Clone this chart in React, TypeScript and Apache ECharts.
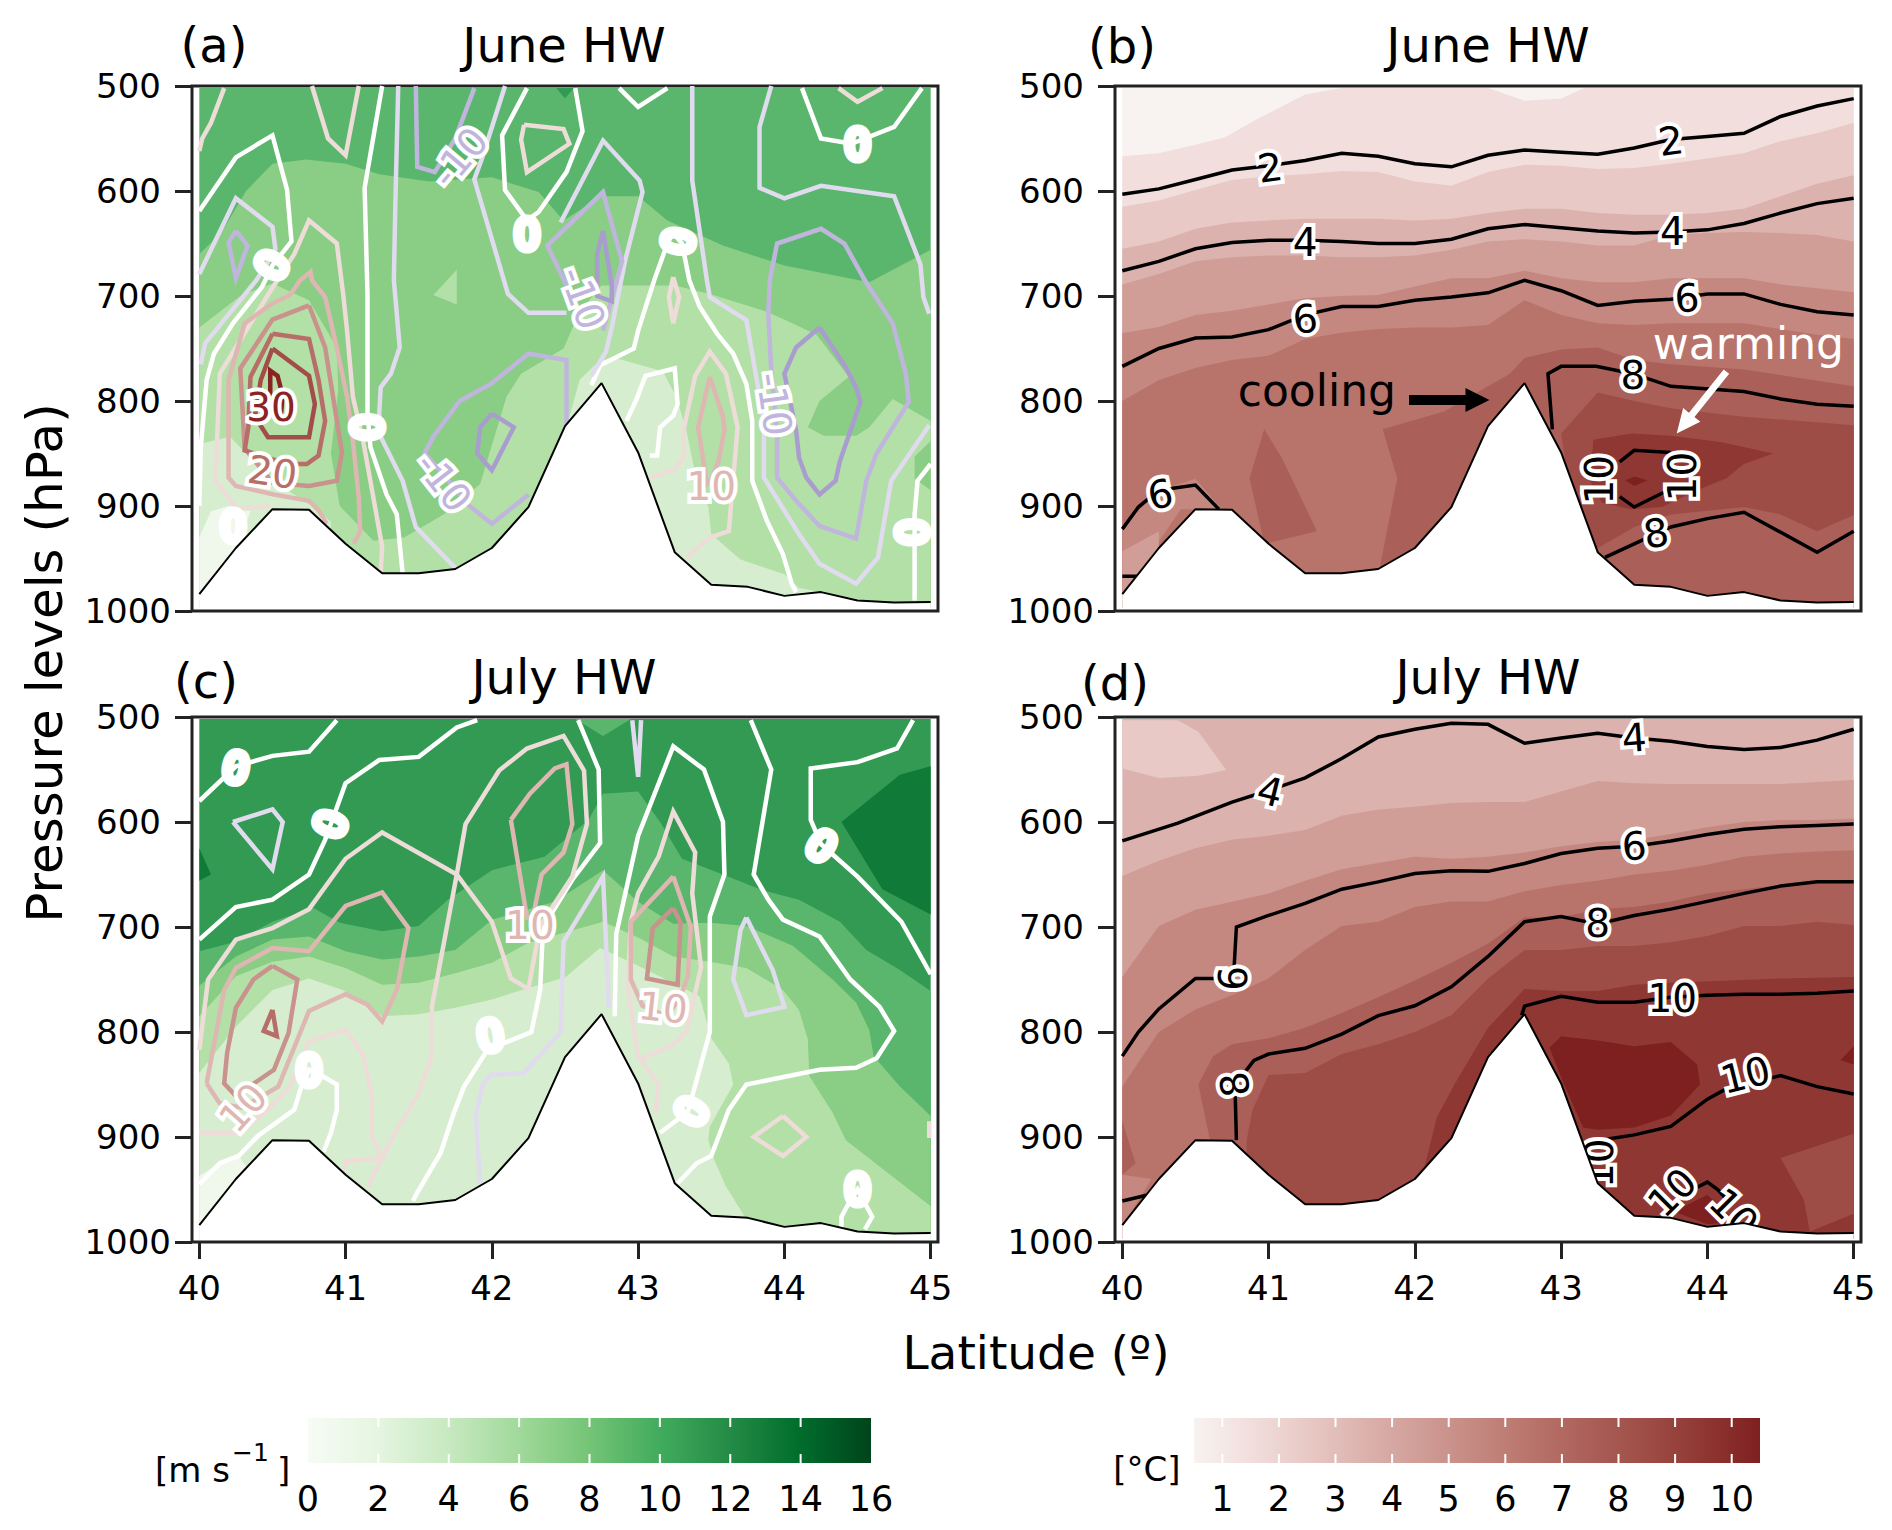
import React, { useEffect, useRef } from "react";
import * as echarts from "echarts";

type Pt = number[];
const loop = (p: Pt[]) => [...p, p[0]];

const FONT = "DejaVu Sans";
const X_TICKS = [40, 41, 42, 43, 44, 45];
const WIND_TICKS = [0, 2, 4, 6, 8, 10, 12, 14, 16];
const TEMP_TICKS = [1, 2, 3, 4, 5, 6, 7, 8, 9, 10];
const GREENS_CMAP = ["#f7fcf5", "#e5f5e0", "#c7e9c0", "#a1d99b", "#74c476", "#41ab5d", "#238b45", "#006d2c", "#00441b"];
const REDS_CMAP = ["#f8f3f0", "#f1dedd", "#e8c9c5", "#dcb2ae", "#d09d97", "#c48880", "#b8736b", "#aa5f58", "#9e4d46", "#8f3733", "#7f2020"];
const GREEN_BANDS = ["#eff8eb", "#d6eecf", "#b3e0a7", "#8acd84", "#5ab66d", "#329a52", "#107a38"];
const LEVEL_COLORS: Record<number, string> = {
  [-15]: "#a99dd0", [-10]: "#c0b6dd", [-5]: "#e0dbee", 0: "#ffffff",
  5: "#eedcd8", 10: "#deb7b2", 15: "#c9928c", 20: "#b76d68", 25: "#a34c4a", 30: "#8b2325",
};

const TERRAIN: Pt[] = [[40, 984], [40.25, 940], [40.5, 903], [40.75, 903.5], [41, 936], [41.25, 964], [41.5, 964], [41.75, 960], [42, 940], [42.25, 901], [42.5, 824], [42.75, 783], [43, 849], [43.25, 944], [43.5, 975], [43.75, 977], [44, 985.6], [44.25, 982], [44.5, 990], [44.75, 992], [45, 991.5]];
const RECT: Pt[] = [[40, 500], [45, 500], [45, 1000], [40, 1000]];

// ---------- panel (a) fills ----------
const aF_top: Pt[] = [[42.44, 500], [42.5, 512], [42.56, 500]];
const aF_68: Pt[] = [[40, 660], [40.15, 640], [40.32, 600], [40.5, 574], [40.73, 570], [41, 574], [41.23, 584], [41.57, 591], [42, 587], [42.32, 601], [42.49, 628], [42.75, 605], [43, 605], [43.2, 628], [43.58, 652], [44, 671], [44.58, 687], [45, 656], [45, 1000], [40, 1000]];
const aF_46: Pt[] = [[40, 730], [40.28, 700], [40.5, 688], [40.75, 704], [40.94, 749], [40.95, 790], [40.9, 850], [40.96, 900], [41.19, 933], [41.4, 930], [41.67, 908], [41.92, 879], [42.1, 796], [42.2, 774], [42.49, 750], [42.6, 715], [42.75, 690], [43, 690], [43.25, 690], [43.49, 698], [43.88, 715], [44.01, 723], [44.22, 737], [44.44, 777], [44.24, 800], [44.16, 825], [44.27, 833], [44.49, 833], [44.58, 825], [44.74, 798], [45, 819], [45, 1000], [40, 1000]];
const aF_46b: Pt[] = [[41.76, 675], [41.6, 699], [41.76, 708]];
const aF_68b: Pt[] = [[44.89, 853], [44.89, 874], [45, 885], [45, 838]];
const aF_24a: Pt[] = [[42.5, 830], [42.6, 780], [42.74, 761], [42.87, 760], [43.17, 772], [43.26, 796], [43.33, 828], [43.4, 876], [43.48, 901], [43.5, 927], [43.7, 951], [44, 965], [44.1, 978], [44.56, 990], [44.56, 1000], [42.5, 1000]];
const aF_24b: Pt[] = [[40, 841], [40.21, 834], [40.5, 876], [40.75, 898], [40.9, 915], [40.9, 1000], [40, 1000]];
const aF_02: Pt[] = [[40, 930], [40.08, 905], [40.2, 900], [40.35, 905], [40.2, 960], [40, 990]];
const A_FILLS: [number, Pt[]][] = [[4, RECT], [5, aF_top], [3, aF_68], [2, aF_46], [2, aF_46b], [3, aF_68b], [1, aF_24a], [1, aF_24b], [0, aF_02]];

// ---------- panel (a) contours ----------
const a30 = loop([[40.485, 800], [40.485, 771], [40.535, 776], [40.57, 795], [40.56, 810]]);
const a25 = loop([[40.5, 750], [40.75, 776], [40.79, 803], [40.75, 834.5], [40.47, 834.5], [40.38, 815], [40.42, 780]]);
const a20 = loop([[40.5, 736], [40.75, 741], [40.815, 780], [40.86, 819], [40.815, 852], [40.735, 860], [40.6, 860], [40.31, 847], [40.335, 825], [40.35, 777]]);
const a15 = loop([[40.75, 709], [40.5, 722.5], [40.28, 769], [40.31, 845], [40.5, 878], [40.75, 881], [40.94, 876], [40.975, 849], [40.86, 749]]);
const a10a: Pt[] = [[41.055, 936], [41.1, 924], [41.09, 892], [41.05, 838], [41.01, 796], [40.94, 749], [40.86, 701], [40.77, 685], [40.76, 677], [40.69, 685], [40.62, 699], [40.5, 707], [40.31, 726], [40.2, 780], [40.2, 873], [40.25, 881], [40.51, 889], [40.75, 895], [40.815, 904], [40.87, 917]];
const a5a: Pt[] = [[41.24, 962], [41.25, 939], [41.19, 892], [41.12, 838], [41.05, 796], [41.01, 733], [40.985, 700], [40.94, 650], [40.75, 628], [40.65, 660], [40.46, 701], [40.14, 774], [40.11, 876], [40.26, 903], [40.485, 900]];
const a5b: Pt[] = [[40, 562], [40.02, 550], [40.08, 535], [40.17, 502]];
const a5c: Pt[] = [[40.77, 500], [40.88, 550], [41, 566], [41.09, 500]];
const a5d = loop([[42.22, 537], [42.49, 541], [42.53, 555], [42.24, 582], [42.2, 551]]);
const a5e: Pt[] = [[44.37, 502], [44.5, 515], [44.67, 502]];
const a5f = loop([[43.24, 682], [43.28, 701], [43.24, 726], [43.21, 701]]);
const a5g: Pt[] = [[43.33, 949], [43.49, 930], [43.62, 924], [43.68, 825], [43.6, 774], [43.49, 753], [43.39, 776], [43.31, 828], [43.31, 854], [43.25, 865], [43.09, 873]];
const a10b = loop([[43.49, 777], [43.58, 815], [43.59, 828], [43.55, 857], [43.5, 875], [43.47, 879], [43.41, 825]]);
const aw1: Pt[] = [[40, 619], [40.25, 568], [40.5, 547], [40.6, 599], [40.63, 648], [40.5, 671], [40.43, 691], [40.23, 726], [40.1, 755], [40.05, 780], [40.01, 844], [40, 900]];
const aw2: Pt[] = [[41.25, 500], [41.13, 597], [41.15, 700], [41.15, 812], [41.17, 844], [41.28, 889], [41.35, 908], [41.39, 964]];
const aw3: Pt[] = [[42.24, 502], [42.07, 547], [42.09, 599], [42.24, 628], [42.32, 620], [42.51, 582], [42.62, 543], [42.57, 502]];
const aw4: Pt[] = [[42.87, 502], [43, 520], [43.2, 502]];
const aw5: Pt[] = [[42.74, 766], [42.97, 750], [43, 733], [43.11, 685], [43.2, 650], [43.24, 640], [43.3, 650], [43.35, 685], [43.42, 710], [43.54, 736], [43.65, 755], [43.74, 784], [43.78, 819], [43.78, 876], [43.88, 914], [43.99, 946], [44.05, 974], [44.08, 982]];
const aw5b: Pt[] = [[42.74, 766], [42.68, 785]];
const aw6: Pt[] = [[42.92, 819], [42.99, 798], [43.05, 776], [43.25, 769], [43.27, 803], [43.24, 814], [43.15, 825], [43.13, 852], [43.08, 852]];
const aw7: Pt[] = [[44.12, 502], [44.25, 550], [44.46, 555], [44.75, 539], [44.94, 502]];
const aw8: Pt[] = [[45, 860], [44.91, 876], [44.89, 908], [44.89, 990]];
const an5a: Pt[] = [[40, 679], [40.25, 607], [40.5, 634], [40.52, 655], [40.45, 672], [40.39, 685], [40.28, 704], [40.04, 745], [40.01, 765]];
const an5b: Pt[] = [[41.36, 500], [41.34, 613], [41.33, 685], [41.37, 749], [41.31, 774], [41.24, 787], [41.23, 812], [41.24, 834], [41.39, 876], [41.48, 920], [41.75, 959]];
const an5c: Pt[] = [[42.09, 500], [41.93, 570], [41.88, 589], [42.11, 698], [42.25, 716], [42.51, 716]];
const an5d: Pt[] = [[42.47, 630], [42.76, 552], [43.01, 590], [43.03, 601], [42.91, 667], [42.82, 730], [42.78, 753], [42.68, 776]];
const an5e: Pt[] = [[43.37, 500], [43.37, 590], [43.47, 685], [43.49, 701], [43.74, 723], [43.86, 819], [43.86, 873], [44.1, 927], [44.24, 955], [44.49, 974], [44.64, 949], [44.73, 876], [44.99, 823]];
const an5f: Pt[] = [[43.91, 500], [43.83, 539], [43.83, 597], [44, 607], [44.25, 595], [44.75, 605], [44.93, 670], [44.95, 701], [44.99, 717]];
const an10a = loop([[40.25, 638], [40.33, 652], [40.25, 683], [40.2, 649]]);
const an10b: Pt[] = [[41.48, 500], [41.49, 577], [41.61, 582], [41.75, 550], [41.88, 502]];
const an10c: Pt[] = [[42.51, 690], [42.38, 652], [42.76, 601], [42.89, 667], [42.82, 702], [42.76, 733]];
const an10d: Pt[] = [[42.25, 889], [42, 917], [41.83, 898], [41.67, 870], [41.54, 850], [41.6, 834], [41.78, 800], [41.99, 784], [42.25, 755], [42.51, 761], [42.51, 823]];
const an10e = loop([[43.9, 685], [43.89, 717], [43.91, 771], [43.95, 831], [43.95, 873], [44.08, 895], [44.24, 919], [44.49, 931], [44.56, 876], [44.63, 850], [44.85, 801], [44.83, 774], [44.74, 726], [44.55, 685], [44.41, 650], [44.25, 636], [43.95, 650]]);
const an15a = loop([[44.24, 730], [44.08, 749], [44, 774], [44.08, 828], [44.1, 854], [44.15, 873], [44.24, 889], [44.35, 876], [44.38, 857], [44.52, 801], [44.49, 787], [44.42, 768]]);
const an15b = loop([[42, 812], [42.15, 825], [42, 866], [41.9, 850], [41.92, 825]]);
const an15c = loop([[42.76, 638], [42.82, 690], [42.82, 705], [42.72, 700], [42.72, 660]]);
const A_LINES: [number, Pt[]][] = [[0, aw1], [0, aw2], [0, aw3], [0, aw4], [0, aw5], [0, aw5b], [0, aw6], [0, aw7], [0, aw8], [-5, an5a], [-5, an5b], [-5, an5c], [-5, an5d], [-5, an5e], [-5, an5f], [-10, an10a], [-10, an10b], [-10, an10c], [-10, an10d], [-10, an10e], [-15, an15a], [-15, an15b], [-15, an15c], [5, a5a], [5, a5b], [5, a5c], [5, a5d], [5, a5e], [5, a5f], [5, a5g], [10, a10a], [10, a10b], [15, a15], [20, a20], [25, a25], [30, a30]];
const A_LABELS: [string, number, number, number, number][] = [["-10", 41.78, 568, 50, -10], ["-10", 42.62, 702, -70, -10], ["-10", 43.93, 803, -82, -10], ["-10", 41.67, 877, -52, -10], ["0", 40.5, 671, 60, 0], ["0", 41.15, 825, 90, 0], ["0", 42.24, 642, 0, 0], ["0", 43.28, 648, 80, 0], ["0", 44.5, 556, 0, 0], ["0", 44.88, 925, 90, 0], ["0", 40.23, 920, 0, 0], ["30", 40.49, 806, 0, 30], ["20", 40.5, 868, -8, 20], ["10", 43.5, 881, 0, 10]];

// ---------- panel (b) fills ----------
const bF1: Pt[] = [[40, 567], [40.25, 564], [40.5, 556], [40.7, 549], [40.93, 531], [41.25, 508], [41.5, 501], [42.5, 501], [42.75, 514], [43, 512], [43.16, 500], [45, 500], [45, 1000], [40, 1000]];
const bF2 = [615, 609, 599, 589.5, 586, 584, 581, 582, 591, 595, 582, 575, 576, 579, 578, 574, 569, 564, 552.5, 545, 535];
const bF3 = [655, 648, 636, 630, 628, 626.5, 626.5, 626.5, 628, 626.5, 621, 617, 617, 621, 622.6, 622.6, 621, 617, 605, 593, 585];
const bF4 = [689, 679, 667, 663, 661.5, 661.5, 663, 663, 661.5, 656, 648, 646, 648, 652, 652, 642, 640, 639, 640, 642, 648];
const bF5 = [735.4, 729.6, 718, 714, 708, 702, 700, 699, 691, 683, 683, 676, 683, 687, 687, 683, 683, 683, 689, 692.6, 696.5];
const bF6 = [800, 780, 768.5, 761, 757, 741, 735, 731.5, 730, 730, 727.6, 704, 718, 726, 727.6, 726, 726, 726, 731.5, 737, 741];
const bF7a: Pt[] = [[41.78, 827], [42.2, 810], [42.45, 790], [42.65, 774], [42.75, 759], [43, 751], [43.25, 749], [43.5, 761], [43.75, 765], [44.25, 770], [45, 786], [45, 1000], [41.76, 1000], [41.76, 959], [41.88, 873.5]];
const bF7b: Pt[] = [[40.97, 827], [40.87, 873.5], [40.97, 936], [41.33, 924], [41.09, 854]];
const bF8: Pt[] = [[43, 831], [43.25, 792], [43.5, 800], [43.75, 807], [44.25, 815], [45, 823], [45, 908.6], [44.75, 924], [44.5, 908], [44.25, 901], [43.75, 908], [43.5, 920], [43.25, 940], [43.1, 924]];
const bF9: Pt[] = [[43.22, 837], [43.48, 831], [43.75, 833], [44.09, 839], [44.45, 850], [44.25, 860], [44.13, 873.5], [43.93, 885], [43.69, 901], [43.48, 903], [43.28, 897], [43.2, 877]];
const bF10: Pt[] = [[43.44, 875.5], [43.5, 872], [43.59, 875.5], [43.5, 881]];
const bF5b: Pt[] = [[40, 920], [40.25, 885], [40.5, 874], [40.68, 903], [40.4, 903], [40, 985]];
const bF4b: Pt[] = [[40, 943], [40.25, 924], [40.25, 940], [40, 990]];
const band = (ps: number[]): Pt[] => [...ps.map((p, i) => [40 + i * 0.25, p]), [45, 1000], [40, 1000]];
const B_FILLS: [number, Pt[]][] = [[0, RECT], [1, bF1], [2, band(bF2)], [3, band(bF3)], [4, band(bF4)], [5, band(bF5)], [6, band(bF6)], [7, bF7a], [7, bF7b], [8, bF8], [9, bF9], [10, bF10], [5, bF5b], [4, bF4b]];

// ---------- panel (b) contours ----------
const b2 = [603, 598, 589, 580, 576, 571, 564, 567, 574, 577, 566, 561, 563, 565, 559, 551, 548, 545, 529, 519, 512];
const b4 = [676, 667, 655, 649, 647, 647, 648, 650, 650, 646, 636, 632, 635, 638, 640, 639, 637, 631, 621, 612, 607];
const b6 = [767, 750, 740, 739, 732, 718, 710, 710, 704, 701, 697, 685, 695, 709, 705, 703, 698, 698, 708, 715, 718];
const grid = (ps: number[]): Pt[] => ps.map((p, i) => [40 + i * 0.25, p]);
const b8a: Pt[] = [[42.94, 827], [42.91, 774], [43, 767], [43.24, 767], [43.49, 774], [43.75, 786], [44.25, 791], [44.5, 798], [44.75, 803], [45, 805]];
const b6b: Pt[] = [[40, 922], [40.11, 901], [40.25, 885], [40.5, 880], [40.66, 903]];
const b6c: Pt[] = [[40, 967], [40.1, 967]];
const b8b: Pt[] = [[43.3, 949], [43.5, 936], [43.75, 920], [44, 912], [44.25, 906], [44.75, 944], [45, 924]];
const b10a: Pt[] = [[43.4, 858], [43.5, 847], [43.75, 849]];
const b10b: Pt[] = [[43.4, 891], [43.5, 901], [43.73, 885]];
const B_LINES: Pt[][] = [grid(b2), grid(b4), grid(b6), b8a, b6b, b6c, b8b, b10a, b10b];
const B_LABELS: [string, number, number, number, number][] = [["2", 41.01, 578, 8, 99], ["2", 43.75, 552.5, 8, 99], ["4", 41.25, 649, 0, 99], ["4", 43.76, 639, 0, 99], ["6", 41.25, 722, 8, 99], ["6", 43.86, 702, 4, 99], ["6", 40.26, 889, 12, 99], ["8", 43.49, 776, 0, 99], ["8", 43.65, 926, 10, 99], ["10", 43.26, 875, 90, 99], ["10", 43.83, 872, 90, 99]];

// ---------- panel (c) fills ----------
const cF_810: Pt[] = [[40, 723], [40.25, 714], [40.5, 695], [40.78, 682], [40.96, 696], [41.25, 704], [41.5, 699], [41.7, 674], [42, 646], [42.36, 633], [42.66, 598], [42.76, 573], [43, 571], [43.15, 600], [43.3, 635], [43.58, 650], [43.85, 665], [44.1, 674], [44.38, 695], [44.56, 722], [44.79, 741], [45, 761], [45, 1000], [40, 1000]];
const cF_68: Pt[] = [[40, 756], [40.25, 728], [40.5, 712], [40.75, 709], [41, 723], [41.25, 731], [41.5, 728], [41.75, 722], [42, 693], [42.43, 676], [42.76, 646], [43, 676], [43.24, 697], [43.49, 696], [43.74, 699], [44.06, 718], [44.33, 750], [44.49, 772], [44.58, 798], [44.61, 823], [44.79, 852], [45, 880], [45, 1000], [40, 1000]];
const cF_46: Pt[] = [[40, 785], [40.25, 747], [40.5, 733], [40.75, 728], [41, 739], [41.25, 755], [41.5, 753], [41.75, 744], [42, 734], [42.25, 715], [42.76, 695], [43, 710], [43.24, 728], [43.49, 733], [43.74, 739], [43.99, 760], [44.1, 779], [44.16, 807], [44.17, 842], [44.33, 877], [44.42, 903], [45, 966], [45, 1000], [40, 1000]];
const cF_24: Pt[] = [[40, 839], [40.25, 795], [40.5, 760], [40.75, 749], [40.98, 760], [41.25, 785], [41.5, 783], [41.75, 777], [42, 769], [42.25, 758], [42.5, 748], [42.74, 720], [43, 737], [43.42, 766], [43.5, 806], [43.62, 830], [43.65, 850], [43.49, 890], [43.48, 903], [43.52, 922], [43.6, 947], [43.72, 974], [43.72, 1000], [40, 1000]];
const cF_02: Pt[] = [[40, 937], [40.14, 925], [40.27, 918], [40.33, 930], [40.05, 985], [40, 985]];
const cF_1214a: Pt[] = [[44.39, 600], [44.79, 555], [45, 547], [45, 688], [44.67, 664]];
const cF_1214b: Pt[] = [[40, 625], [40.08, 650], [40, 656]];
const cF_top: Pt[] = [[42.57, 502], [42.76, 518], [42.95, 502]];
const C_FILLS: [number, Pt[]][] = [[5, RECT], [6, cF_1214a], [6, cF_1214b], [4, cF_top], [4, cF_810], [3, cF_68], [2, cF_46], [1, cF_24], [0, cF_02]];

// ---------- panel (c) contours ----------
const cw1: Pt[] = [[40, 580], [40.25, 547], [40.5, 537], [40.75, 533], [40.94, 503]];
const cw2: Pt[] = [[40, 712], [40.25, 681], [40.5, 674], [40.75, 650], [40.86, 617], [41, 563], [41.23, 541], [41.5, 538], [41.76, 510], [41.9, 503]];
const cw3: Pt[] = [[42.59, 503], [42.73, 550], [42.74, 620], [42.55, 655], [42.35, 700], [42.33, 760], [42.27, 800], [41.97, 817], [41.81, 852], [41.74, 877], [41.65, 915], [41.49, 953], [41.46, 961]];
const cw4: Pt[] = [[43.34, 876], [43.49, 800], [43.49, 690], [43.59, 650], [43.58, 600], [43.45, 550], [43.24, 528], [43, 613], [42.85, 707], [42.84, 785]];
const cw4b: Pt[] = [[43.34, 876], [43.15, 896]];
const cw5: Pt[] = [[43.77, 503], [43.91, 550], [43.79, 650], [43.89, 674], [43.99, 693], [44.24, 709], [44.45, 750], [44.65, 776], [44.75, 799], [44.63, 825], [44.49, 834], [44.24, 836], [43.74, 850], [43.62, 874], [43.5, 918], [43.4, 925], [43.27, 944]];
const cw6: Pt[] = [[44.88, 503], [44.77, 530], [44.5, 543], [44.18, 549], [44.18, 598], [44.25, 621], [44.5, 652], [44.8, 695], [45, 745]];
const cw7: Pt[] = [[44.39, 988], [44.39, 976], [44.44, 963], [44.5, 950], [44.55, 963], [44.6, 976], [44.55, 988]];
const cw8: Pt[] = [[40, 945], [40.14, 925], [40.27, 918], [40.4, 899], [40.65, 874], [40.69, 855], [40.75, 836], [40.83, 841], [40.94, 850], [40.94, 874], [40.9, 896], [40.85, 914]];
const c5a: Pt[] = [[40, 817], [40.06, 750], [40.25, 712], [40.5, 701], [40.75, 683], [41, 635], [41.25, 610], [41.76, 650], [42, 695], [42.13, 749], [42.25, 759]];
const c5b: Pt[] = [[41.76, 650], [41.82, 602], [42.05, 551], [42.24, 530], [42.49, 518], [42.63, 551], [42.65, 602], [42.55, 652], [42.33, 699], [42.25, 759]];
const c5c: Pt[] = [[41.76, 650], [41.59, 776], [41.59, 823], [41.49, 861], [41.35, 893], [41.15, 947]];
const c5d: Pt[] = [[40, 896], [40.28, 896], [40.49, 871], [40.62, 852], [40.75, 809], [41, 798], [41.12, 822], [41.18, 861], [41.18, 899], [41.25, 920], [41, 923], [40.99, 931]];
const c5e: Pt[] = [[43.12, 878], [43.14, 850], [43, 823], [42.93, 757], [42.95, 695], [43, 668], [43.14, 633], [43.24, 590], [43.39, 629], [43.37, 668], [43.43, 738], [43.33, 800], [43.24, 812], [43, 827]];
const c5f = loop([[43.99, 880], [44.15, 900], [43.99, 918], [43.79, 900]]);
const c5g: Pt[] = [[44.99, 885], [44.99, 901]];
const c10a: Pt[] = [[40.05, 849], [40.17, 760], [40.25, 739], [40.5, 720], [40.75, 723], [41, 680], [41.25, 667], [41.43, 701], [41.35, 760], [41.25, 790], [41.15, 774], [41, 764], [40.75, 780], [40.54, 852], [40.43, 861], [40.29, 872], [40.14, 868], [40.05, 849]];
const c10b = loop([[42.13, 598], [42.26, 573], [42.43, 549], [42.51, 545], [42.55, 602], [42.49, 629], [42.34, 650], [42.28, 691], [42.24, 691]]);
const c10c = loop([[43.24, 652], [43.36, 700], [43.34, 747], [43.29, 766], [43.2, 785], [43.03, 775], [42.95, 750], [42.95, 695]]);
const c15a = loop([[40.5, 737], [40.67, 750], [40.61, 801], [40.51, 836], [40.31, 855], [40.25, 861], [40.17, 849], [40.19, 820], [40.25, 777], [40.37, 750]]);
const c15b = loop([[43.24, 682], [43.29, 696], [43.27, 755], [43.06, 749], [43.1, 701]]);
const c20a = loop([[40.5, 779], [40.53, 804], [40.44, 799]]);
const cn5a: Pt[] = [[42.96, 503], [43, 557], [43.02, 503]];
const cn5b = loop([[40.23, 600], [40.5, 588], [40.57, 600], [40.5, 645]]);
const cn5c: Pt[] = [[42.8, 777], [42.76, 652], [42.49, 714], [42.47, 800], [42.22, 839], [41.99, 841], [41.94, 849], [41.89, 880], [41.92, 944]];
const cn5d = loop([[43.74, 691], [43.7, 703], [43.65, 750], [43.74, 784], [44, 776], [43.92, 741]]);
const C_LINES: [number, Pt[]][] = [[0, cw1], [0, cw2], [0, cw3], [0, cw4], [0, cw4b], [0, cw5], [0, cw6], [0, cw7], [0, cw8], [-5, cn5a], [-5, cn5b], [-5, cn5c], [-5, cn5d], [5, c5a], [5, c5b], [5, c5c], [5, c5d], [5, c5e], [5, c5f], [5, c5g], [10, c10a], [10, c10b], [10, c10c], [15, c15a], [15, c15b], [20, c20a]];
const C_LABELS: [string, number, number, number, number][] = [["0", 40.25, 549, -10, 0], ["0", 40.9, 602, 70, 0], ["0", 41.99, 804, 10, 0], ["0", 40.75, 837, 0, 0], ["0", 43.37, 876, 60, 0], ["0", 44.25, 623, -35, 0], ["0", 44.5, 950, 0, 0], ["10", 40.3, 872, 48, 10], ["10", 42.26, 699, 0, 10], ["10", 43.17, 777, -6, 10]];

// ---------- panel (d) fills ----------
const dF2: Pt[] = [[40, 503], [40.38, 503], [40.52, 514], [40.71, 550.5], [40.52, 556], [40.25, 558], [40, 549]];
const dF4 = [651.5, 637, 625, 617, 613, 607.6, 594, 588, 585.5, 582, 581, 581, 571, 561, 563, 563.7, 563.7, 563.7, 563.7, 562, 560];
const dF5 = [747.5, 699, 683.5, 676, 668, 656, 645, 639, 633, 635, 633, 629, 623, 619, 617, 611.5, 605, 600, 598, 598, 597];
const dF6 = [852, 800, 778.5, 765, 749, 722, 699, 695, 681, 675.6, 675.6, 666, 660, 656, 650, 646.5, 640.6, 633, 630, 628, 627];
const dF7: Pt[] = [[40.6, 903], [40.52, 850], [40.62, 823], [40.75, 811.6], [41, 806], [41.25, 796], [41.5, 782], [41.75, 767], [42, 751], [42.25, 734], [42.5, 716], [42.75, 691], [43, 691], [43.25, 683], [43.5, 681], [43.75, 675.6], [44, 668], [44.25, 664], [44.5, 660], [44.75, 658], [45, 658], [45, 1000], [40.6, 1000]];
const dF8: Pt[] = [[40.85, 903], [40.89, 874], [41, 841], [41.25, 839], [41.5, 821], [41.75, 811.6], [42, 800], [42.25, 784], [42.5, 749], [42.75, 722], [43, 722], [43.25, 718], [43.5, 718], [43.75, 714.5], [44, 708.6], [44.25, 699], [44.5, 699], [44.75, 695], [45, 698], [45, 1000], [40.85, 1000]];
const dF9: Pt[] = [[42.06, 932], [42.15, 881.5], [42.27, 850], [42.5, 796], [42.75, 759], [43, 761], [43.25, 761], [43.5, 755], [43.75, 753], [44.5, 749], [45, 747.5], [45, 1000], [42.06, 1000]];
const dF8b: Pt[] = [[44.5, 920], [45, 897], [45, 973], [44.7, 990], [44.66, 960]];
const dF10a: Pt[] = [[43, 804], [43.25, 808], [43.5, 813.5], [43.75, 809.6], [43.93, 831], [43.95, 850], [43.75, 879.6], [43.5, 891], [43.25, 893], [43.15, 891], [43.02, 850], [42.92, 815]];
const dF10b: Pt[] = [[45, 813.5], [44.91, 827], [45, 831]];
const dF10c: Pt[] = [[43.77, 971], [44, 983], [44.2, 981], [44, 955]];
const dF5b: Pt[] = [[40, 936], [40.2, 940], [40, 985]];
const dF7b: Pt[] = [[40, 885], [40.09, 925], [40, 936]];
const D_FILLS: [number, Pt[]][] = [[3, RECT], [2, dF2], [4, band(dF4)], [5, band(dF5)], [6, band(dF6)], [7, dF7], [8, dF8], [9, dF9], [8, dF8b], [10, dF10a], [10, dF10b], [10, dF10c], [5, dF5b], [7, dF7b]];

// ---------- panel (d) contours ----------
const d4 = [618, 601, 581, 570, 558, 539.6, 519, 511.7, 506, 507, 525, 520, 515.5, 520, 523, 528, 531, 529, 522, 511.7];
const d4lats = [40, 40.38, 40.75, 41, 41.25, 41.5, 41.75, 42, 42.25, 42.5, 42.75, 43, 43.25, 43.5, 43.75, 44, 44.25, 44.5, 44.75, 45];
const d4l: Pt[] = d4.map((p, i) => [d4lats[i], p]);
const d6: Pt[] = [[40, 823], [40.11, 800], [40.25, 778], [40.5, 749], [40.76, 749], [40.78, 700], [41, 689], [41.25, 677.5], [41.5, 664], [41.75, 657], [42, 649], [42.25, 646.5], [42.5, 647], [42.75, 639.5], [43, 630], [43.25, 625], [43.5, 623], [43.75, 618], [44, 612], [44.25, 607], [44.5, 604.5], [44.75, 603.3], [45, 602]];
const d8: Pt[] = [[40.78, 903], [40.77, 850.4], [40.9, 827], [41, 821], [41.25, 815.5], [41.5, 802], [41.75, 784.4], [42, 775], [42.25, 757], [42.5, 728], [42.75, 695], [43, 690], [43.25, 697], [43.5, 689], [43.75, 683], [44, 675.6], [44.25, 668], [44.5, 661], [44.75, 657], [45, 657]];
const d8b: Pt[] = [[40, 961], [40.18, 955]];
const d10a: Pt[] = [[42.73, 784], [42.75, 775.4], [43, 766], [43.25, 771.6], [43.5, 771.6], [43.75, 767], [44, 765], [44.25, 764], [44.5, 764], [44.75, 763], [45, 761]];
const d10b: Pt[] = [[43.32, 902], [43.5, 898], [43.75, 890], [44, 864], [44.13, 854], [44.5, 841.5], [44.75, 852], [45, 859]];
const d10c: Pt[] = [[43.9, 950], [44, 943], [44.07, 950], [44.13, 959]];
const D_LINES: Pt[][] = [d4l, d6, d8, d8b, d10a, d10b, d10c];
const D_LABELS: [string, number, number, number, number][] = [["4", 41.01, 571, -14, 99], ["4", 43.5, 520, 4, 99], ["6", 40.76, 749, 90, 99], ["6", 43.5, 623, 4, 99], ["8", 43.25, 697, 0, 99], ["8", 40.77, 850, 100, 99], ["10", 43.76, 768, 0, 99], ["10", 44.26, 841, 14, 99], ["10", 43.26, 925, 90, 99], ["10", 43.76, 953, 45, 99], ["10", 44.18, 972, -45, 99]];

// ---------- annotations in panel (b) ----------
const COOLING_ARROW: Pt[] = [[41.96, 799], [42.51, 799]];
const WARMING_ARROW: Pt[] = [[44.13, 772], [43.79, 831]];

const PANELS = [
  { left: 192, top: 86, fills: A_FILLS, bandColors: GREEN_BANDS, lines: A_LINES.map(([lv, p]) => ({ color: LEVEL_COLORS[lv], p })), labels: A_LABELS },
  { left: 1115, top: 86, fills: B_FILLS, bandColors: REDS_CMAP, lines: B_LINES.map((p) => ({ color: "#000", p })), labels: B_LABELS },
  { left: 192, top: 717, fills: C_FILLS, bandColors: GREEN_BANDS, lines: C_LINES.map(([lv, p]) => ({ color: LEVEL_COLORS[lv], p })), labels: C_LABELS },
  { left: 1115, top: 717, fills: D_FILLS, bandColors: REDS_CMAP, lines: D_LINES.map((p) => ({ color: "#000", p })), labels: D_LABELS },
];

function buildOption() {
  const grids: any[] = [];
  const xAxes: any[] = [];
  const yAxes: any[] = [];
  const series: any[] = [];
  PANELS.forEach((pn, i) => {
    const bottomRow = i >= 2;
    grids.push({ left: pn.left, top: pn.top, width: 746, height: 525, show: true, borderColor: "#222", borderWidth: 3, backgroundColor: "#fff", containLabel: false });
    xAxes.push({
      type: "value", gridIndex: i, min: 39.95, max: 45.05, splitLine: { show: false },
      axisLine: { show: false },
      axisTick: { show: bottomRow, customValues: X_TICKS, length: 17, lineStyle: { color: "#222", width: 3 } },
      axisLabel: { show: bottomRow, customValues: X_TICKS, fontFamily: FONT, fontSize: 34, color: "#000", margin: 29, formatter: (v: number) => String(v) },
    });
    yAxes.push({
      type: "value", gridIndex: i, min: 500, max: 1000, interval: 100, inverse: true, splitLine: { show: false },
      axisLine: { show: false },
      axisTick: { show: true, length: 17, lineStyle: { color: "#222", width: 3 } },
      axisLabel: {
        fontFamily: FONT, fontSize: 34, color: "#000", margin: 21,
        formatter: (v: number) => (v === 1000 ? `{k|${v}}` : `{n|${v}}`),
        rich: {
          k: { fontFamily: FONT, fontSize: 34, color: "#000" },
          n: { fontFamily: FONT, fontSize: 34, color: "#000", padding: [0, 10, 0, 0] },
        },
      },
    });
    const common = { xAxisIndex: i, yAxisIndex: i, silent: true };
    series.push({
      ...common, type: "custom", z: 2, data: pn.fills.map((f) => f[1][0]),
      renderItem: (params: any, api: any) => {
        const f = pn.fills[params.dataIndex];
        return {
          type: "polygon",
          shape: { points: f[1].map((q: Pt) => api.coord([q[0], Math.max(502, Math.min(q[1], 997))])) },
          style: { fill: pn.bandColors[f[0]] },
        };
      },
    });
    pn.lines.forEach((l) => {
      series.push({
        ...common, type: "line", z: 3, data: l.p, symbol: "none", showSymbol: false,
        lineStyle: { color: l.color, width: i % 2 ? 3.5 : 4.5, join: "miter" },
      });
    });
    series.push({
      ...common, type: "custom", z: 4, data: pn.labels.map((l) => [l[1], l[2]]),
      renderItem: (params: any, api: any) => {
        const l = pn.labels[params.dataIndex];
        const c = api.coord([l[1], l[2]]);
        const lv = l[4];
        const fill = lv === 99 ? "#000" : LEVEL_COLORS[lv];
        return {
          type: "text", x: c[0], y: c[1], rotation: (l[3] * Math.PI) / 180,
          style: { text: l[0], fontFamily: FONT, fontSize: lv === 0 ? 41 : 39, fill, stroke: "#fff", lineWidth: 8, align: "center", verticalAlign: "middle" },
        };
      },
    });
    series.push({
      ...common, type: "custom", z: 5, data: [TERRAIN[0]],
      renderItem: (_: any, api: any) => ({
        type: "polygon",
        shape: { points: [...TERRAIN, [45, 998], [40, 998]].map((q) => api.coord(q)) },
        style: { fill: "#fff" },
      }),
    });
    series.push({
      ...common, type: "line", z: 6, data: TERRAIN, symbol: "none", showSymbol: false,
      lineStyle: { color: "#000", width: 2 },
    });
  });

  // arrows and words in panel (b)
  const arrow = (pts: Pt[], color: string, w: number, hw: number, hl: number) => ({
    xAxisIndex: 1, yAxisIndex: 1, silent: true, type: "custom", z: 7, data: [pts[0]],
    renderItem: (_: any, api: any) => {
      const a = api.coord(pts[0]);
      const b = api.coord(pts[1]);
      const len = Math.hypot(b[0] - a[0], b[1] - a[1]);
      const ux = (b[0] - a[0]) / len;
      const uy = (b[1] - a[1]) / len;
      const nx = -uy;
      const ny = ux;
      const m = [b[0] - ux * hl, b[1] - uy * hl];
      return {
        type: "polygon",
        shape: {
          points: [
            [a[0] + (nx * w) / 2, a[1] + (ny * w) / 2],
            [m[0] + (nx * w) / 2, m[1] + (ny * w) / 2],
            [m[0] + (nx * hw) / 2, m[1] + (ny * hw) / 2],
            b,
            [m[0] - (nx * hw) / 2, m[1] - (ny * hw) / 2],
            [m[0] - (nx * w) / 2, m[1] - (ny * w) / 2],
            [a[0] - (nx * w) / 2, a[1] - (ny * w) / 2],
          ],
        },
        style: { fill: color },
      };
    },
  });
  series.push(arrow(COOLING_ARROW, "#000", 10, 24, 24));
  series.push(arrow(WARMING_ARROW, "#fff", 7, 22, 24));
  const word = (text: string, at: Pt, fill: string) => ({
    xAxisIndex: 1, yAxisIndex: 1, silent: true, type: "custom", z: 7, data: [at],
    renderItem: (_: any, api: any) => {
      const c = api.coord(at);
      return { type: "text", x: c[0], y: c[1], style: { text, fontFamily: FONT, fontSize: 44, fill, align: "center", verticalAlign: "middle" } };
    },
  });
  series.push(word("cooling", [41.33, 790], "#000"));
  series.push(word("warming", [44.28, 745], "#fff"));

  // colour bars
  const bar = (gi: number, left: number, width: number, min: number, max: number, ticks: number[], cmap: string[]) => {
    grids.push({ left, top: 1418, width, height: 45, show: false });
    xAxes.push({
      type: "value", gridIndex: gi, min, max, splitLine: { show: false }, axisLine: { show: false }, axisTick: { show: false },
      axisLabel: { customValues: ticks, fontFamily: FONT, fontSize: 35, color: "#000", margin: 18 },
    });
    yAxes.push({ type: "value", gridIndex: gi, min: 0, max: 1, show: false });
    series.push({
      xAxisIndex: gi, yAxisIndex: gi, silent: true, type: "custom", z: 2, data: [[min, 1]],
      renderItem: (_: any, api: any) => {
        const tl = api.coord([min, 1]);
        const br = api.coord([max, 0]);
        const children: any[] = [{
          type: "rect", shape: { x: tl[0], y: tl[1], width: br[0] - tl[0], height: br[1] - tl[1] },
          style: { fill: new echarts.graphic.LinearGradient(0, 0, 1, 0, cmap.map((color, i) => ({ offset: i / (cmap.length - 1), color }))) },
        }];
        ticks.forEach((t) => {
          const x = api.coord([t, 0])[0];
          if (t === min || t === max) return;
          children.push({ type: "line", shape: { x1: x, y1: tl[1], x2: x, y2: tl[1] + 9 }, style: { stroke: "#fff", lineWidth: 2 } });
          children.push({ type: "line", shape: { x1: x, y1: br[1] - 9, x2: x, y2: br[1] }, style: { stroke: "#fff", lineWidth: 2 } });
        });
        return { type: "group", children };
      },
    });
  };
  bar(4, 308, 563, 0, 16, WIND_TICKS, GREENS_CMAP);
  bar(5, 1194, 566, 0.5, 10.5, TEMP_TICKS, REDS_CMAP);

  const txt = (text: string, x: number, y: number, fontSize: number, extra: any = {}, style: any = {}) => ({
    type: "text", x, y, ...extra,
    style: { text, fontFamily: FONT, fontSize, fill: "#000", align: "center", verticalAlign: "middle", ...style },
  });
  const graphic = [
    txt("(a)", 214, 45, 48), txt("June HW", 564, 45, 48),
    txt("(b)", 1122, 46, 48), txt("June HW", 1488, 45, 48),
    txt("(c)", 206, 681, 48), txt("July HW", 564, 677, 48),
    txt("(d)", 1115, 683, 48), txt("July HW", 1488, 677, 48),
    txt("Pressure levels (hPa)", 45, 663, 50, { rotation: Math.PI / 2 }),
    txt("Latitude (º)", 1036, 1352, 47),
    txt("[m s", 155, 1470, 34, {}, { align: "left" }),
    txt("−1", 232, 1452, 25, {}, { align: "left" }),
    txt("]", 277, 1470, 34, {}, { align: "left" }),
    txt("[°C]", 1147, 1469, 34),
  ];

  return { animation: false, backgroundColor: "#fff", grid: grids, xAxis: xAxes, yAxis: yAxes, series, graphic };
}

export default function App() {
  const ref = useRef<HTMLDivElement>(null);
  useEffect(() => {
    const chart = echarts.init(ref.current!, undefined, { renderer: "svg" });
    chart.setOption(buildOption());
    return () => chart.dispose();
  }, []);
  return <div ref={ref} style={{ position: "absolute", left: 0, top: 0, width: 1892, height: 1530 }} />;
}
